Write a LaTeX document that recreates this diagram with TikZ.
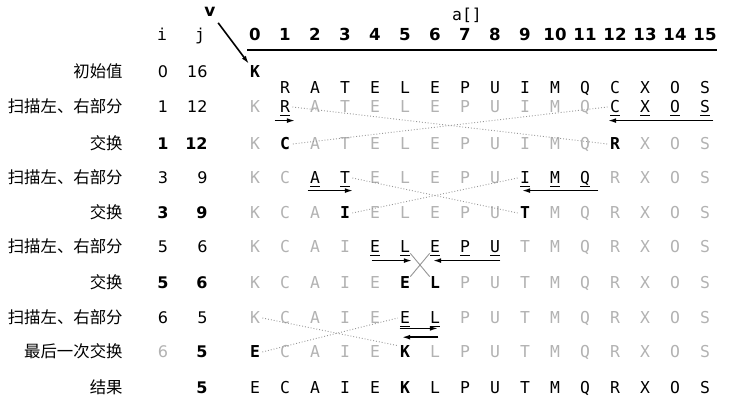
\documentclass[tikz,border=0pt]{standalone}
\usepackage{fontspec}
\setsansfont{DejaVu Sans}
\setmonofont{DejaVu Sans Mono}
\newfontfamily\cjk{Noto Sans CJK SC}
\usetikzlibrary{arrows.meta, positioning}
\definecolor{fadegray}{RGB}{178,178,178}
\definecolor{swapgray}{RGB}{150,150,150}
\tikzset{
    qsplain/.style={font=\ttfamily\fontsize{8.2}{9}\selectfont, text=black, inner sep=0pt, text height=6pt, text depth=0pt},
    qsgray/.style={qsplain, text=fadegray},
    qsbold/.style={qsplain, font=\ttfamily\bfseries\fontsize{8.2}{9}\selectfont},
    qsscan/.style={qsplain, append after command={([xshift=0.4pt, yshift=-1.2pt]\tikzlastnode.south west) edge[draw=black, line width=0.5pt] ([xshift=-0.4pt, yshift=-1.2pt]\tikzlastnode.south east)}},
    qshead/.style={font=\ttfamily\fontsize{8.2}{9}\selectfont, inner sep=0pt, text height=6pt, text depth=0pt},
    qsindex/.style={font=\sffamily\bfseries\fontsize{8.3}{9}\selectfont, inner sep=0pt, text height=6pt, text depth=0pt},
    qsv/.style={font=\sffamily\bfseries\fontsize{8.5}{9}\selectfont, inner sep=0.5pt},
    qslabel/.style={font=\cjk\fontsize{8.2}{9}\selectfont, anchor=east, inner sep=0pt, text height=6.5pt, text depth=0.8pt},
    qsnum/.style={font=\sffamily\fontsize{8}{9}\selectfont, inner sep=0pt, text height=6pt, text depth=0pt, text=#1},
    qsnum/.default=black,
    qsnumb/.style={qsnum, font=\sffamily\bfseries\fontsize{8}{9}\selectfont},
    qsarrow/.style={-{Latex[length=4.2pt, width=2.4pt]}, line width=0.8pt},
    qsswap/.style={densely dotted, draw=swapgray, line width=0.45pt},
    qsrule/.style={line width=0.6pt}
}

\begin{document}
\begin{tikzpicture}[x=0.5pt, y=-0.5pt]
\useasboundingbox (0,0) rectangle (741,411);

% header
\node[qshead] (arr) at (467,15) {a[]};
\node[qsv] (v) at (210,12) {v};
\node[qshead] (hi) at (162,35) {i};
\node[qshead] (hj) at (200,35) {j};
\foreach \k in {0,...,15}
    \node[qsindex] (h\k) at ({255+30*\k},35) {\k};
\draw[qsrule] (247,50) -- (717,50);

% row labels
\node[qslabel] (l1) at (123,72) {初始值};
\node[qslabel] (l2) at (123,107) {扫描左、右部分};
\node[qslabel] (l3) at (123,144) {交换};
\node[qslabel] (l4) at (123,178) {扫描左、右部分};
\node[qslabel] (l5) at (123,213) {交换};
\node[qslabel] (l6) at (123,247) {扫描左、右部分};
\node[qslabel] (l7) at (123,283) {交换};
\node[qslabel] (l8) at (123,318) {扫描左、右部分};
\node[qslabel] (l9) at (123,352) {最后一次交换};
\node[qslabel] (l10) at (123,388) {结果};

% i and j
\node[qsnum] (i1) at (163,72) {0};
\node[qsnum, anchor=east] (j1) at (208,72) {16};
\node[qsnum] (i2) at (163,107) {1};
\node[qsnum, anchor=east] (j2) at (208,107) {12};
\node[qsnumb] (i3) at (163,144) {1};
\node[qsnumb, anchor=east] (j3) at (208,144) {12};
\node[qsnum] (i4) at (163,178) {3};
\node[qsnum, anchor=east] (j4) at (208,178) {9};
\node[qsnumb] (i5) at (163,213) {3};
\node[qsnumb, anchor=east] (j5) at (208,213) {9};
\node[qsnum] (i6) at (163,247) {5};
\node[qsnum, anchor=east] (j6) at (208,247) {6};
\node[qsnumb] (i7) at (163,283) {5};
\node[qsnumb, anchor=east] (j7) at (208,283) {6};
\node[qsnum] (i8) at (163,318) {6};
\node[qsnum, anchor=east] (j8) at (208,318) {5};
\node[qsnum=fadegray] (i9) at (163,352) {6};
\node[qsnumb, anchor=east] (j9) at (208,352) {5};
\node[qsnumb, anchor=east] (j10) at (208,388) {5};

% array rows
\node[qsbold] (r1c0) at (255,72) {K};
\foreach \ch [count=\k from 1] in {R,A,T,E,L,E,P,U,I,M,Q,C,X,O,S}
    \node[qsplain] (init\k) at ({255+30*\k},88) {\ch};
\foreach \ch/\st [count=\k from 0] in {K/qsgray,R/qsscan,A/qsgray,T/qsgray,E/qsgray,L/qsgray,E/qsgray,P/qsgray,U/qsgray,I/qsgray,M/qsgray,Q/qsgray,C/qsscan,X/qsscan,O/qsscan,S/qsscan}
    \node[style=\st] (r2c\k) at ({255+30*\k},107) {\ch};
\foreach \ch/\st [count=\k from 0] in {K/qsgray,C/qsbold,A/qsgray,T/qsgray,E/qsgray,L/qsgray,E/qsgray,P/qsgray,U/qsgray,I/qsgray,M/qsgray,Q/qsgray,R/qsbold,X/qsgray,O/qsgray,S/qsgray}
    \node[style=\st] (r3c\k) at ({255+30*\k},144) {\ch};
\foreach \ch/\st [count=\k from 0] in {K/qsgray,C/qsgray,A/qsscan,T/qsscan,E/qsgray,L/qsgray,E/qsgray,P/qsgray,U/qsgray,I/qsscan,M/qsscan,Q/qsscan,R/qsgray,X/qsgray,O/qsgray,S/qsgray}
    \node[style=\st] (r4c\k) at ({255+30*\k},178) {\ch};
\foreach \ch/\st [count=\k from 0] in {K/qsgray,C/qsgray,A/qsgray,I/qsbold,E/qsgray,L/qsgray,E/qsgray,P/qsgray,U/qsgray,T/qsbold,M/qsgray,Q/qsgray,R/qsgray,X/qsgray,O/qsgray,S/qsgray}
    \node[style=\st] (r5c\k) at ({255+30*\k},213) {\ch};
\foreach \ch/\st [count=\k from 0] in {K/qsgray,C/qsgray,A/qsgray,I/qsgray,E/qsscan,L/qsscan,E/qsscan,P/qsscan,U/qsscan,T/qsgray,M/qsgray,Q/qsgray,R/qsgray,X/qsgray,O/qsgray,S/qsgray}
    \node[style=\st] (r6c\k) at ({255+30*\k},247) {\ch};
\foreach \ch/\st [count=\k from 0] in {K/qsgray,C/qsgray,A/qsgray,I/qsgray,E/qsgray,E/qsbold,L/qsbold,P/qsgray,U/qsgray,T/qsgray,M/qsgray,Q/qsgray,R/qsgray,X/qsgray,O/qsgray,S/qsgray}
    \node[style=\st] (r7c\k) at ({255+30*\k},283) {\ch};
\foreach \ch/\st [count=\k from 0] in {K/qsgray,C/qsgray,A/qsgray,I/qsgray,E/qsgray,E/qsscan,L/qsscan,P/qsgray,U/qsgray,T/qsgray,M/qsgray,Q/qsgray,R/qsgray,X/qsgray,O/qsgray,S/qsgray}
    \node[style=\st] (r8c\k) at ({255+30*\k},318) {\ch};
\foreach \ch/\st [count=\k from 0] in {E/qsbold,C/qsgray,A/qsgray,I/qsgray,E/qsgray,K/qsbold,L/qsgray,P/qsgray,U/qsgray,T/qsgray,M/qsgray,Q/qsgray,R/qsgray,X/qsgray,O/qsgray,S/qsgray}
    \node[style=\st] (r9c\k) at ({255+30*\k},352) {\ch};
\foreach \ch/\st [count=\k from 0] in {E/qsplain,C/qsplain,A/qsplain,I/qsplain,E/qsplain,K/qsbold,L/qsplain,P/qsplain,U/qsplain,T/qsplain,M/qsplain,Q/qsplain,R/qsplain,X/qsplain,O/qsplain,S/qsplain}
    \node[style=\st] (r10c\k) at ({255+30*\k},388) {\ch};

% partitioning item
\draw[qsarrow, shorten <=3pt, shorten >=1pt] (v) -- (r1c0);

% scans
\draw[qsarrow] ([xshift=-2.5pt, yshift=-6.8pt]r2c1.west) -- ([xshift=2.5pt, yshift=-6.8pt]r2c1.east);
\draw[qsarrow] ([xshift=1.5pt, yshift=-6.8pt]r2c15.east) -- ([xshift=-1pt, yshift=-6.8pt]r2c12.west);
\draw[qsarrow] ([xshift=-1pt, yshift=-6.3pt]r4c2.west) -- ([xshift=1.5pt, yshift=-6.3pt]r4c3.east);
\draw[qsarrow] ([xshift=4pt, yshift=-6.3pt]r4c11.east) -- ([xshift=1pt, yshift=-6.3pt]r4c9.west);
\draw[qsarrow] ([xshift=1pt, yshift=-6.8pt]r6c4.west) -- ([xshift=1pt, yshift=-6.8pt]r6c5.east);
\draw[qsarrow] ([yshift=-6.8pt]r6c8.east) -- ([xshift=1.5pt, yshift=-6.8pt]r6c6.west);
\draw[qsarrow] ([yshift=-5.2pt]r8c5.west) -- ([xshift=-1pt, yshift=-5.2pt]r8c6.east);
\draw[qsarrow] ([xshift=-1pt, yshift=-9.6pt]r8c6.east) -- ([xshift=1pt, yshift=-9.6pt]r8c5.west);

% exchanges
\draw[qsswap] ([xshift=1pt]r2c1.east) -- ([xshift=-1pt]r3c12.west);
\draw[qsswap] ([xshift=-1pt]r2c12.west) -- ([xshift=1pt]r3c1.east);
\draw[qsswap] ([xshift=1pt]r4c3.east) -- ([xshift=-1pt]r5c9.west);
\draw[qsswap] ([xshift=-1pt]r4c9.west) -- ([xshift=1pt]r5c3.east);
\draw[qsswap, solid] (r6c5.south east) -- (r7c6.north west);
\draw[qsswap, solid] (r6c6.south west) -- (r7c5.north east);
\draw[qsswap] ([xshift=1pt]r8c0.east) -- ([xshift=-1pt]r9c5.north west);
\draw[qsswap] ([xshift=1pt]r9c0.east) -- ([xshift=-1pt]r8c5.west);

\end{tikzpicture}
\end{document}
